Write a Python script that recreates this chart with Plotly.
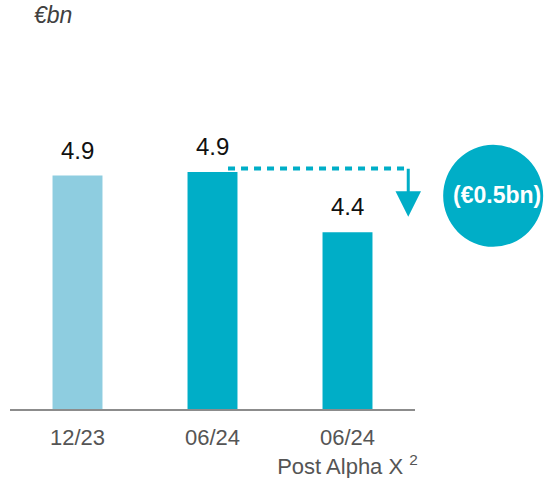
import plotly.graph_objects as go

# chart data
periods = ['12/23', '06/24', '06/24<br>Post Alpha X <sup>2</sup>']
values = [4.88, 4.91, 4.4]
value_labels = ['4.9', '4.9', '4.4']
bar_colors = ['#8ECDE0', '#00AEC7', '#00AEC7']
delta_label = '(€0.5bn)'
unit_label = '€bn'

axis_base = 2.9
xpos = list(range(len(periods)))
font_family = 'Liberation Sans, Arial, sans-serif'
teal = '#00AEC7'

fig = go.Figure()
fig.add_trace(go.Bar(
    x=xpos,
    y=[v - axis_base for v in values],
    base=axis_base,
    width=0.37,
    marker=dict(color=bar_colors, line=dict(width=0)),
    hoverinfo='skip'
))

# value labels above bars
for xi, v, lab in zip(xpos, values, value_labels):
    fig.add_annotation(
        x=xi, y=v, text=lab, showarrow=False,
        xanchor='center', yanchor='bottom', yshift=10,
        font=dict(family=font_family, size=24, color='#111111')
    )

# dotted connector from 06/24 bar to the Post Alpha X column
fig.add_shape(
    type='line', xref='x', yref='y',
    x0=1.115, x1=2.45, y0=4.94, y1=4.94,
    line=dict(color=teal, width=4, dash='7px,6px')
)
# down arrow
fig.add_annotation(
    x=2.45, y=4.53, ax=2.45, ay=4.95,
    xref='x', yref='y', axref='x', ayref='y',
    text='', showarrow=True,
    arrowhead=2, arrowsize=1.7, arrowwidth=3, arrowcolor=teal
)

# delta bubble
fig.add_shape(
    type='circle', xref='paper', yref='paper',
    xsizemode='pixel', ysizemode='pixel',
    xanchor=1.193, yanchor=0.548,
    x0=-50, x1=50, y0=-51, y1=51,
    fillcolor=teal, line=dict(width=0)
)
fig.add_annotation(
    x=1.203, y=0.55, xref='paper', yref='paper',
    xanchor='center', yanchor='middle',
    text='<b>' + delta_label + '</b>', showarrow=False,
    font=dict(family=font_family, size=23, color='white')
)

# unit label
fig.add_annotation(
    x=0.106, y=1.013, xref='paper', yref='paper',
    xanchor='center', yanchor='middle',
    text='<i>' + unit_label + '</i>', showarrow=False,
    font=dict(family=font_family, size=23, color='#404040')
)

fig.update_layout(
    width=544, height=478,
    margin=dict(l=10, r=129, t=20, b=69),
    plot_bgcolor='white', paper_bgcolor='white',
    showlegend=False,
    font=dict(family=font_family),
    xaxis=dict(
        range=[-0.5, 2.5],
        tickvals=xpos, ticktext=periods,
        showgrid=False, zeroline=False, automargin=False,
        showline=True, linecolor='#8C8C8C', linewidth=2,
        ticks='', ticklabelstandoff=8,
        tickfont=dict(size=22, color='#555555')
    ),
    yaxis=dict(
        range=[axis_base, 6.2],
        visible=False, showgrid=False, zeroline=False, automargin=False
    )
)

fig.write_html("out.html", config={'displayModeBar': False},
               post_script="document.body.style.margin='0';")
